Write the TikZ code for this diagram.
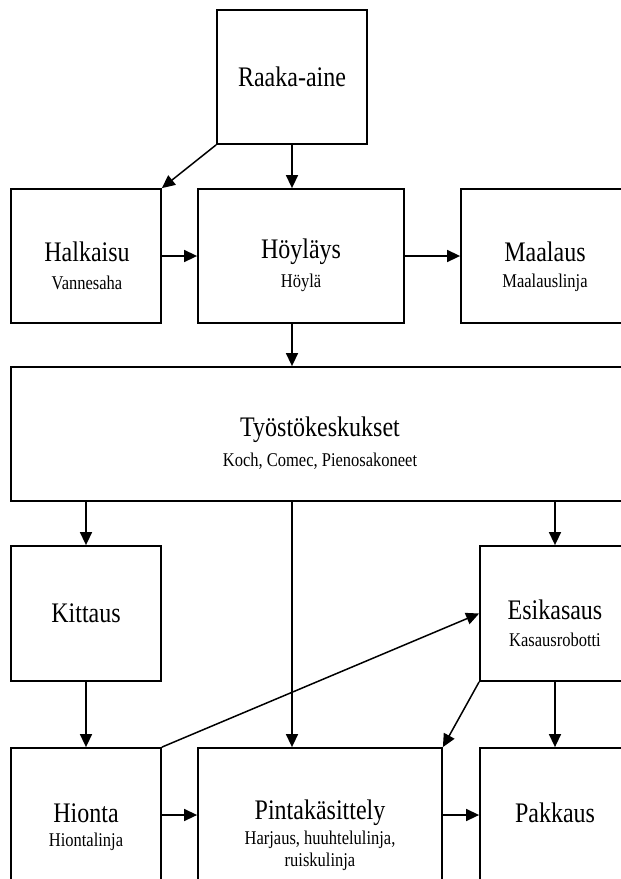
\documentclass[tikz,border=0pt]{standalone}
\usepackage{fontspec}
\setmainfont{Liberation Serif}
\usetikzlibrary{arrows.meta}
\newcommand{\tallt}[1]{\scalebox{1}[1.18]{#1}}
\begin{document}
\begin{tikzpicture}[x=1pt,y=-1pt,
  box/.style={draw, line width=1.8pt, inner sep=0pt},
  ttl/.style={font=\fontsize{24}{28}\selectfont, inner sep=0pt},
  subt/.style={font=\fontsize{16.5}{19}\selectfont, inner sep=0pt},
  conn/.style={line width=1.5pt, -{Triangle[length=13pt,width=12pt]}}]
\useasboundingbox (0,0) rectangle (621,879);
\fill[white] (0,0) rectangle (621,879);
\clip (0,0) rectangle (621,879);
% boxes
\node[box, minimum width=150pt, minimum height=134pt] (raaka) at (292,77) {};
\node[box, minimum width=150pt, minimum height=134pt] (halk) at (86,256) {};
\node[box, minimum width=206pt, minimum height=134pt] (hoyl) at (301,256) {};
\node[box, minimum width=169pt, minimum height=134pt] (maal) at (545.5,256) {};
\node[box, minimum width=619pt, minimum height=134pt] (tyo) at (320.5,434) {};
\node[box, minimum width=150pt, minimum height=135pt] (kitt) at (86,613.5) {};
\node[box, minimum width=150pt, minimum height=135pt] (esik) at (555,613.5) {};
\node[box, minimum width=150pt, minimum height=134pt] (hion) at (86,815) {};
\node[box, minimum width=244pt, minimum height=134pt] (pinta) at (320,815) {};
\node[box, minimum width=150pt, minimum height=134pt] (pakk) at (555,815) {};
% texts
\node[ttl] (raaka-t) at (292,77) {\tallt{Raaka-aine}};
\node[ttl] (halk-t) at (87,252) {\tallt{Halkaisu}};
\node[subt] (halk-s) at (87,283) {\tallt{Vannesaha}};
\node[ttl] (hoyl-t) at (301,252) {\tallt{Höyläys}};
\node[subt] (hoyl-s) at (301,283) {\tallt{Höylä}};
\node[ttl] (maal-t) at (545,252) {\tallt{Maalaus}};
\node[subt] (maal-s) at (545,283) {\tallt{Maalauslinja}};
\node[ttl] (tyo-t) at (320,430) {\tallt{Työstökeskukset}};
\node[subt] (tyo-s) at (320,461) {\tallt{Koch, Comec, Pienosakoneet}};
\node[ttl] (kitt-t) at (86,613) {\tallt{Kittaus}};
\node[ttl] (esik-t) at (555,610) {\tallt{Esikasaus}};
\node[subt] (esik-s) at (555,640) {\tallt{Kasausrobotti}};
\node[ttl] (hion-t) at (86,813) {\tallt{Hionta}};
\node[subt] (hion-s) at (86,842) {\tallt{Hiontalinja}};
\node[ttl] (pinta-t) at (320,813) {\tallt{Pintakäsittely}};
\node[subt] (pinta-s) at (320,840) {\tallt{Harjaus, huuhtelulinja,}};
\node[subt] (pinta-s2) at (320,862) {\tallt{ruiskulinja}};
\node[ttl] (pakk-t) at (555,813) {\tallt{Pakkaus}};
% connectors
\coordinate (colx) at (292,0);
\draw[conn] (raaka.south west) -- (halk.north east);
\draw[conn] (raaka.south) -- (raaka.south |- hoyl.north);
\draw[conn] (halk.east) -- (hoyl.west);
\draw[conn] (hoyl.east) -- (maal.west);
\draw[conn] (colx |- hoyl.south) -- (colx |- tyo.north);
\draw[conn] (kitt.north |- tyo.south) -- (kitt.north);
\draw[conn] (esik.north |- tyo.south) -- (esik.north);
\draw[conn] (colx |- tyo.south) -- (colx |- pinta.north);
\draw[conn] (kitt.south) -- (hion.north);
\draw[conn] (hion.north east) -- (esik.west);
\draw[conn] (esik.south west) -- (pinta.north east);
\draw[conn] (esik.south) -- (pakk.north);
\draw[conn] (hion.east) -- (pinta.west);
\draw[conn] (pinta.east) -- (pakk.west);
\end{tikzpicture}
\end{document}
